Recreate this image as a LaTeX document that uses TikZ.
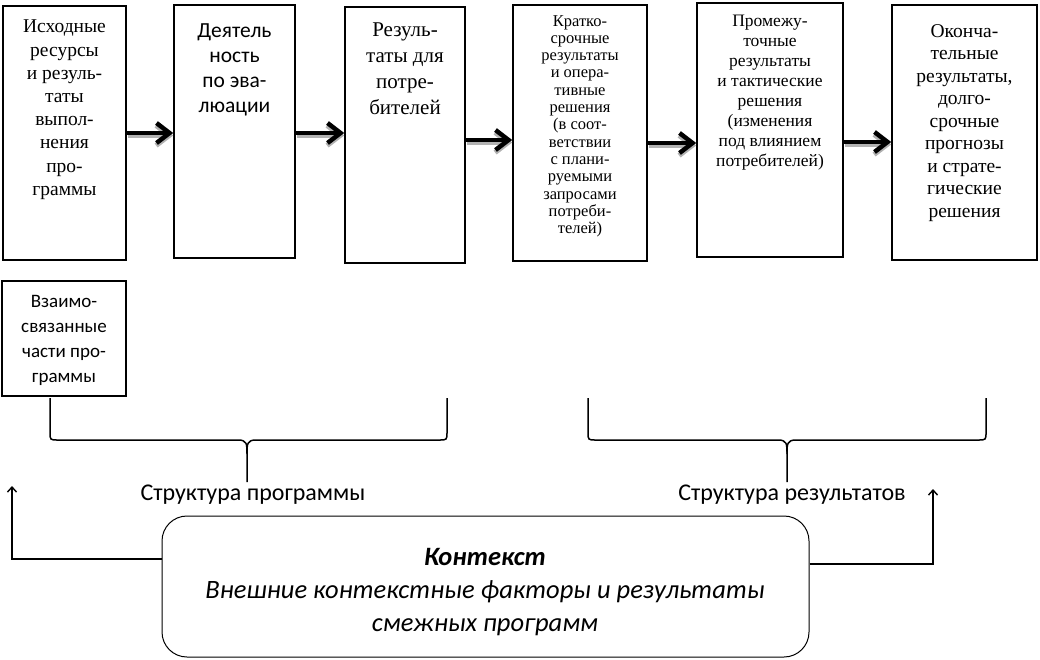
\documentclass[tikz,border=0pt]{standalone}
\usepackage{fontspec}
\setmainfont{Liberation Serif}
\newfontfamily\calibrifont{Carlito}
\usetikzlibrary{arrows.meta}
\tikzset{
  box/.style={draw, line width=1.6pt, inner sep=0pt},
  txt/.style={anchor=north, align=center, inner sep=0pt},
  bigarrow/.style={line width=4.5pt, -{Straight Barb[length=13pt,width=20pt,line width=4.5pt]}},
  shadowarrow/.style={line width=5pt, draw=black!30, -{Straight Barb[length=13pt,width=20pt,line width=5pt]}},
  bracepath/.style={line width=1.5pt},
  thinarrow/.style={line width=1.4pt, -{Straight Barb[length=5pt,width=9pt]}},
}
\begin{document}
\begin{tikzpicture}[x=1pt,y=-1pt]
\useasboundingbox (0,0) rectangle (1040,659);
% boxes
\node[box, minimum width=123pt, minimum height=254pt] (b1) at (64.5,133) {};
\node[box, minimum width=121pt, minimum height=253pt] (b2) at (234.5,131.5) {};
\node[box, minimum width=120pt, minimum height=256pt] (b3) at (405,135) {};
\node[box, minimum width=134pt, minimum height=256pt] (b4) at (580,133) {};
\node[box, minimum width=146pt, minimum height=254pt] (b5) at (770,130) {};
\node[box, minimum width=145pt, minimum height=255pt] (b6) at (964.5,132.5) {};
\node[box, minimum width=124pt, minimum height=115pt] (b7) at (64,338.5) {};
% texts
\node[txt, font=\fontsize{19.5}{23.2}\selectfont] (t1) at (64.5,20) {Исходные\\ресурсы\\и резуль-\\таты\\выпол-\\нения\\про-\\граммы};
\node[txt, font=\calibrifont\fontsize{21.5}{25}\selectfont] (t2) at (234.5,24) {Деятель\\ность\\по эва-\\люации};
\node[txt, font=\fontsize{21}{26}\selectfont] (t3) at (405,23) {Резуль-\\таты для\\потре-\\бителей};
\node[txt, font=\fontsize{16.5}{17.3}\selectfont] (t4) at (580,15) {Кратко-\\срочные\\результаты\\и опера-\\тивные\\решения\\(в соот-\\ветствии\\с плани-\\руемыми\\запросами\\потреби-\\телей)};
\node[txt, font=\fontsize{17.5}{20}\selectfont] (t5) at (770,15) {Промежу-\\точные\\результаты\\и тактические\\решения\\(изменения\\под влиянием\\потребителей)};
\node[txt, font=\fontsize{19.5}{22.5}\selectfont] (t6) at (964.5,24) {Оконча-\\тельные\\результаты,\\долго-\\срочные\\прогнозы\\и страте-\\гические\\решения};
\node[txt, font=\calibrifont\fontsize{19}{25}\selectfont] (t7) at (64,295) {Взаимо-\\связанные\\части про-\\граммы};
% arrows between boxes
\coordinate (a12) at (b1.east);
\coordinate (a23) at ([yshift=-1.5pt]b2.east);
\coordinate (a34) at ([yshift=-5pt]b3.east);
\coordinate (a45) at ([yshift=-10pt]b4.east);
\coordinate (a56) at ([yshift=-12pt]b5.east);
\foreach \s/\t in {a12/b2,a23/b3,a34/b4,a45/b5,a56/b6}{
  \draw[shadowarrow] ([shift={(1.5pt,-2.5pt)}]\s) -- ([shift={(0pt,-2.5pt)}]\t.west |- \s);
  \draw[bigarrow] (\s) -- (\t.west |- \s);
}
% braces
\draw[bracepath] (50,398) -- (50,432) .. controls (50,440) .. (58,440) -- (238,440)
  .. controls (247,440) and (247,444) .. (247,454) -- (247,482);
\draw[bracepath] (447,398) -- (447,432) .. controls (447,440) .. (439,440) -- (256,440)
  .. controls (247,440) and (247,444) .. (247,454);
\draw[bracepath] (588,398) -- (588,432) .. controls (588,440) .. (596,440) -- (778,440)
  .. controls (787,440) and (787,444) .. (787,454) -- (787,482);
\draw[bracepath] (986,398) -- (986,432) .. controls (986,440) .. (978,440) -- (796,440)
  .. controls (787,440) and (787,444) .. (787,454);
% brace labels
\node[font=\calibrifont\fontsize{24}{28}\selectfont, inner sep=0pt] (sp) at (253,495) {Структура программы};
\node[font=\calibrifont\fontsize{24}{28}\selectfont, inner sep=0pt] (sr) at (792,495) {Структура результатов};
% context box
\node[draw, line width=1pt, rounded corners=25pt, minimum width=647pt, minimum height=141pt, inner sep=0pt] (ctx) at (485.5,586.5) {};
\node[align=center, inner sep=0pt, font=\calibrifont\itshape\fontsize{26.5}{33}\selectfont] (ct) at (485,592) {\textbf{Контекст}\\Внешние контекстные факторы и результаты\\смежных программ};
% context arrows
\coordinate (la) at (12,486);
\coordinate (ra) at (933,489);
\draw[thinarrow] ([yshift=27.5pt]ctx.west) -| (la);
\draw[thinarrow] ([yshift=22.5pt]ctx.east) -| (ra);
\end{tikzpicture}
\end{document}
